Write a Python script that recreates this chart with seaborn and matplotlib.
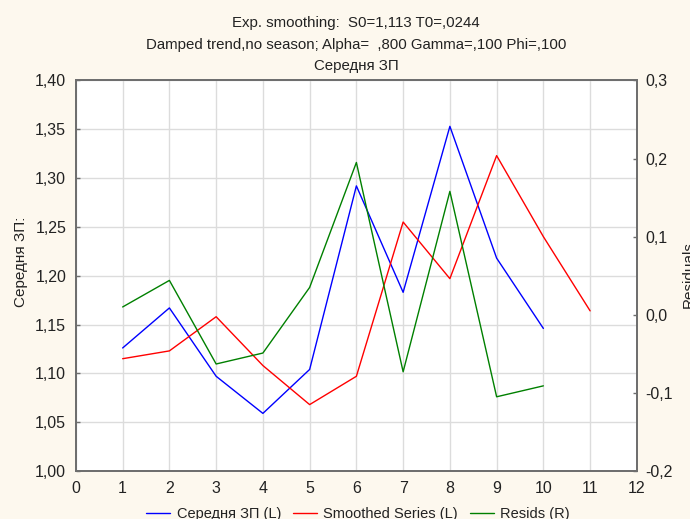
import matplotlib
matplotlib.use("Agg")
import matplotlib.pyplot as plt
import matplotlib.ticker as mticker
import pandas as pd
import seaborn as sns

# data
steps = [1, 2, 3, 4, 5, 6, 7, 8, 9, 10]
steps_smooth = [1, 2, 3, 4, 5, 6, 7, 8, 9, 10, 11]
series = [1.126, 1.167, 1.097, 1.059, 1.104, 1.292, 1.183, 1.353, 1.218, 1.146]
smoothed = [1.115, 1.123, 1.158, 1.108, 1.068, 1.097, 1.255, 1.197, 1.323, 1.240, 1.164]
resids = [0.010, 0.044, -0.063, -0.049, 0.035, 0.195, -0.073, 0.158, -0.105, -0.091]

title_lines = ["Exp. smoothing:  S0=1,113 T0=,0244",
               "Damped trend,no season; Alpha=  ,800 Gamma=,100 Phi=,100",
               "Середня ЗП"]
labels = ["Середня ЗП (L)", "Smoothed Series (L)", "Resids (R)"]

sns.set_style("white")
plt.rcParams['font.family'] = ['Liberation Sans', 'DejaVu Sans']
plt.rcParams['font.size'] = 10

bg = "#fdf8ee"
grid_c = "#dcdcdc"
spine_c = "#6e6e6e"
txt_c = "#222222"

fig = plt.figure(figsize=(6.9, 5.19), dpi=100, facecolor=bg)
ax = fig.add_axes([0.110, 0.0925, 0.813, 0.7525])
ax.set_facecolor("white")
ax2 = ax.twinx()

df_a = pd.DataFrame({"x": steps, "y": series})
df_s = pd.DataFrame({"x": steps_smooth, "y": smoothed})
df_r = pd.DataFrame({"x": steps, "y": resids})

sns.lineplot(data=df_a, x="x", y="y", ax=ax, color="blue", lw=1.0, label=labels[0])
sns.lineplot(data=df_s, x="x", y="y", ax=ax, color="red", lw=1.0, label=labels[1])
sns.lineplot(data=df_r, x="x", y="y", ax=ax2, color="green", lw=1.0, label=labels[2])

ax.set_xlim(0, 12)
ax.set_ylim(1.0, 1.4)
ax2.set_ylim(-0.2, 0.3)
ax.set_xticks(range(0, 13))
ax.set_yticks([1.0 + 0.05 * i for i in range(9)])
ax2.set_yticks([-0.2, -0.1, 0.0, 0.1, 0.2, 0.3])

ax.yaxis.set_major_formatter(mticker.FuncFormatter(lambda v, p: f"{v:.2f}".replace(".", ",")))
ax2.yaxis.set_major_formatter(mticker.FuncFormatter(lambda v, p: f"{v:.1f}".replace(".", ",").replace("−", "-")))

ax.grid(True, color=grid_c, lw=1.0)
ax.set_axisbelow(True)

for a in (ax, ax2):
    for s in a.spines.values():
        s.set_color(spine_c)
        s.set_linewidth(1.3)
ax.tick_params(axis="both", length=3, width=1, color=spine_c, labelcolor=txt_c,
               labelsize=11.5, direction="in")
ax.tick_params(axis="y", pad=7)
ax.tick_params(axis="x", pad=7)
ax2.tick_params(axis="y", length=3, width=1, color=spine_c, labelcolor=txt_c,
                labelsize=11.5, direction="in", pad=6)

ax.set_xlabel("")
ax.set_ylabel("Середня ЗП:", fontsize=11, color=txt_c)
ax.yaxis.set_label_coords(-0.0854, 0.535)
ax2.set_ylabel("Residuals", fontsize=11, color=txt_c)
ax2.yaxis.set_label_coords(1.0795, 0.502)

for a in (ax, ax2):
    if a.get_legend() is not None:
        a.get_legend().remove()

h1, l1 = ax.get_legend_handles_labels()
h2, l2 = ax2.get_legend_handles_labels()
fig.legend(h1 + h2, l1 + l2, loc="center", bbox_to_anchor=(0.519, 0.0096), ncol=3,
           frameon=False, handlelength=1.65, handletextpad=0.45, columnspacing=0.8,
           fontsize=10.5, labelcolor=txt_c)

for txt, yy in zip(title_lines, [0.9474, 0.905, 0.865]):
    fig.text(0.516, yy, txt, ha="center", va="baseline", fontsize=10.8, color=txt_c)

fig.savefig("out.png", dpi=100, facecolor=bg)
